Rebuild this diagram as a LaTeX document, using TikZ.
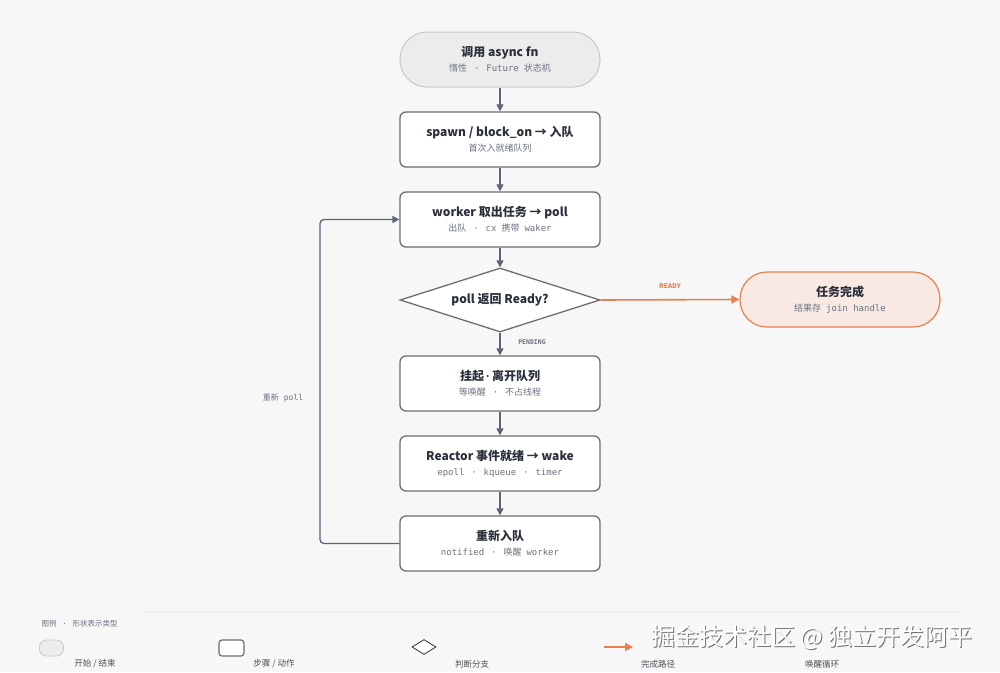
\documentclass[tikz,border=0pt]{standalone}
\usepackage{fontspec}
\setmainfont{Noto Sans CJK SC}
\newfontfamily\monof{DejaVu Sans Mono}
\newfontfamily\latf{Liberation Sans}
\usetikzlibrary{shapes.geometric,arrows.meta}
\definecolor{bg}{HTML}{F7F7F7}
\definecolor{ink}{HTML}{2B303B}
\definecolor{subc}{HTML}{6B7280}
\definecolor{edgec}{HTML}{5C6375}
\definecolor{boxline}{HTML}{6E6E6E}
\definecolor{startfill}{HTML}{ECECEC}
\definecolor{startline}{HTML}{C8C8C8}
\definecolor{accent}{HTML}{E8804F}
\definecolor{donefill}{HTML}{F8E9E2}
\newcommand{\ttl}[1]{{\fontsize{12}{14}\selectfont\bfseries\color{ink}#1}}
\newcommand{\sbt}[1]{{\fontsize{9}{11}\selectfont\color{subc}#1}}
\newcommand{\mo}[1]{{\monof #1}}
\newcommand{\sepdot}{{\monof\ \,·\ \,}}
\newcommand{\gapsp}{\hspace{5pt}}
\tikzset{
  stepbox/.style={rectangle, rounded corners=6pt, minimum width=200pt, minimum height=55pt,
    draw=boxline, line width=1.3pt, fill=white, align=center, inner sep=0pt},
  startbox/.style={rectangle, rounded corners=27pt, minimum width=200pt, minimum height=55pt,
    draw=startline, line width=1pt, fill=startfill, align=center, inner sep=0pt},
  donebox/.style={rectangle, rounded corners=27pt, minimum width=200pt, minimum height=55pt,
    draw=accent, line width=1.2pt, fill=donefill, align=center, inner sep=0pt},
  decbox/.style={diamond, aspect=3.125, minimum width=200pt, minimum height=64pt,
    draw=boxline, line width=1.3pt, fill=white, align=center, inner sep=0pt},
  flow/.style={draw=edgec, line width=1.3pt, -{Triangle[length=7pt,width=7pt]}},
  okflow/.style={draw=accent, line width=1.6pt, -{Triangle[length=8pt,width=8pt]}},
  edgelbl/.style={font=\fontsize{6.5}{8}\selectfont\bfseries},
  legtxt/.style={font=\fontsize{8.5}{10}\selectfont, text=ink!85},
}
\begin{document}
\begin{tikzpicture}[x=1pt,y=-1pt]
\fill[bg] (0,0) rectangle (1000,672);
\useasboundingbox (0,0) rectangle (1000,672);

\node[startbox] (start) at (500,59.5) {\ttl{调用 async fn}\\[3pt]\sbt{惰性\sepdot\mo{Future}\gapsp 状态机}};
\node[stepbox] (spawn) at (500,139.5) {\ttl{spawn / block\_on → 入队}\\[3pt]\sbt{首次入就绪队列}};
\node[stepbox] (worker) at (500,219.5) {\ttl{worker 取出任务 → poll}\\[3pt]\sbt{出队\sepdot\mo{cx}\gapsp 携带\gapsp\mo{waker}}};
\node[decbox] (dec) at (500,300) {\ttl{poll 返回 Ready?}};
\node[donebox] (done) at (840,299.5) {\ttl{任务完成}\\[3pt]\sbt{结果存\gapsp\mo{join handle}}};
\node[stepbox] (suspend) at (500,383.5) {\ttl{挂起\,{\latf·}\,离开队列}\\[3pt]\sbt{等唤醒\sepdot 不占线程}};
\node[stepbox] (reactor) at (500,463.5) {\ttl{Reactor 事件就绪 → wake}\\[3pt]\sbt{\mo{epoll}\sepdot\mo{kqueue}\sepdot\mo{timer}}};
\node[stepbox] (requeue) at (500,543.5) {\ttl{重新入队}\\[3pt]\sbt{\mo{notified}\sepdot 唤醒\gapsp\mo{worker}}};

\draw[flow] (start.south) -- (spawn.north);
\draw[flow] (spawn.south) -- (worker.north);
\draw[flow] (worker.south) -- (dec.north);
\draw[flow] (dec.south) -- (suspend.north);
\draw[flow] (suspend.south) -- (reactor.north);
\draw[flow] (reactor.south) -- (requeue.north);
\coordinate (loopc) at (320,543.5);
\draw[flow, rounded corners=4pt] (requeue.west) -- (loopc) |- (worker.west);
\draw[okflow] (dec.east) -- (done.west);

\node[edgelbl, text=accent] (lready) at (670,286) {READY};
\node[edgelbl, text=subc] (lpend) at (532,342) {\monof PENDING};
\node[font=\fontsize{8}{10}\selectfont, text=subc] (lrepoll) at (283,398) {重新\gapsp\mo{poll}};

% legend
\draw[draw=black!6, line width=2pt] (143,612) -- (960,612);
\node[anchor=west, font=\fontsize{7.5}{9}\selectfont, text=subc] (legtitle) at (38,624) {图例\sepdot 形状表示类型};
\node[rectangle, rounded corners=7pt, minimum width=24pt, minimum height=16pt, draw=startline, fill=startfill, line width=0.8pt, inner sep=0pt] (lg1) at (51.5,648) {};
\node[rectangle, rounded corners=3pt, minimum width=25pt, minimum height=16pt, draw=boxline, fill=white, line width=1.2pt, inner sep=0pt] (lg2) at (231.5,648) {};
\node[diamond, aspect=1.6, minimum width=24pt, minimum height=15pt, draw=black!80, fill=white, line width=0.8pt, inner sep=0pt] (lg3) at (424,647) {};
\coordinate (lg4a) at (604,647);
\coordinate (lg4b) at (633,647);
\draw[okflow] (lg4a) -- (lg4b);
\node[legtxt] (lt1) at (95,664) {开始 / 结束};
\node[legtxt] (lt2) at (274,664) {步骤 / 动作};
\node[legtxt] (lt3) at (472,664) {判断分支};
\node[legtxt] (lt4) at (658,664) {完成路径};
\node[legtxt] (lt5) at (822,664) {唤醒循环};

% watermark
\node[font=\fontsize{24}{28}\selectfont, text=black!55] (wmshadow) at (813.2,638.2) {掘金技术社区 @ 独立开发阿平};
\node[font=\fontsize{24}{28}\selectfont, text=white] (wm) at (812,637) {掘金技术社区 @ 独立开发阿平};
\end{tikzpicture}
\end{document}
